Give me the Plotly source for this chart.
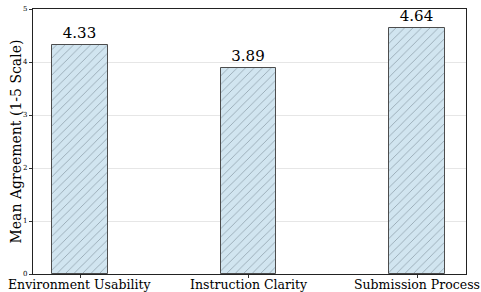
import plotly.graph_objects as go

categories = ["Environment Usability", "Instruction Clarity", "Submission Process"]
values = [4.33, 3.89, 4.64]
value_labels = ["4.33", "3.89", "4.64"]
y_ticks = [0, 1, 2, 3, 4, 5]
x_pos = [0, 1, 2]

fig = go.Figure()
fig.add_trace(go.Bar(
    x=x_pos, y=values, width=0.33,
    marker=dict(color="#d1e5f0", line=dict(color="#4d4d4d", width=1),
                pattern=dict(shape="/", fgcolor="#55656f", size=6, solidity=0.14, bgcolor="#d1e5f0")),
    text=value_labels, textposition="outside", cliponaxis=False,
    textfont=dict(family="DejaVu Serif", size=15, color="black"),
    showlegend=False,
))
for xi, lab in zip(x_pos, categories):
    fig.add_annotation(x=xi, y=0, xref="x", yref="paper", text=lab, showarrow=False,
                       yanchor="top", xanchor="center", yshift=-1,
                       font=dict(family="DejaVu Serif", size=12.5, color="black"))
fig.add_annotation(x=0, y=0.5, xref="paper", yref="paper", text="Mean Agreement (1-5 Scale)",
                   showarrow=False, textangle=-90, xanchor="center", yanchor="middle", xshift=-18,
                   font=dict(family="DejaVu Serif", size=14, color="black"))
fig.update_layout(
    width=481, height=292,
    margin=dict(l=33, r=15, t=9, b=18),
    plot_bgcolor="white", paper_bgcolor="white",
    font=dict(family="DejaVu Serif", color="black"),
    xaxis=dict(range=[-0.28, 2.29], tickvals=x_pos, showticklabels=False, automargin=False,
               ticks="outside", ticklen=3, tickcolor="#333",
               showline=True, linecolor="#222", linewidth=1.2, mirror=True, showgrid=False),
    yaxis=dict(range=[0, 5], tickvals=y_ticks, tickfont=dict(size=7), ticks="outside", ticklen=3,
               tickcolor="#333", showline=True, linecolor="#222", linewidth=1.2, mirror=True,
               showgrid=True, gridcolor="#e6e6e6", gridwidth=1, zeroline=False, automargin=False),
    bargap=0,
)
fig.write_html("out.html", config={"displayModeBar": False},
               post_script="document.body.style.margin='0';document.body.style.overflow='hidden';")
